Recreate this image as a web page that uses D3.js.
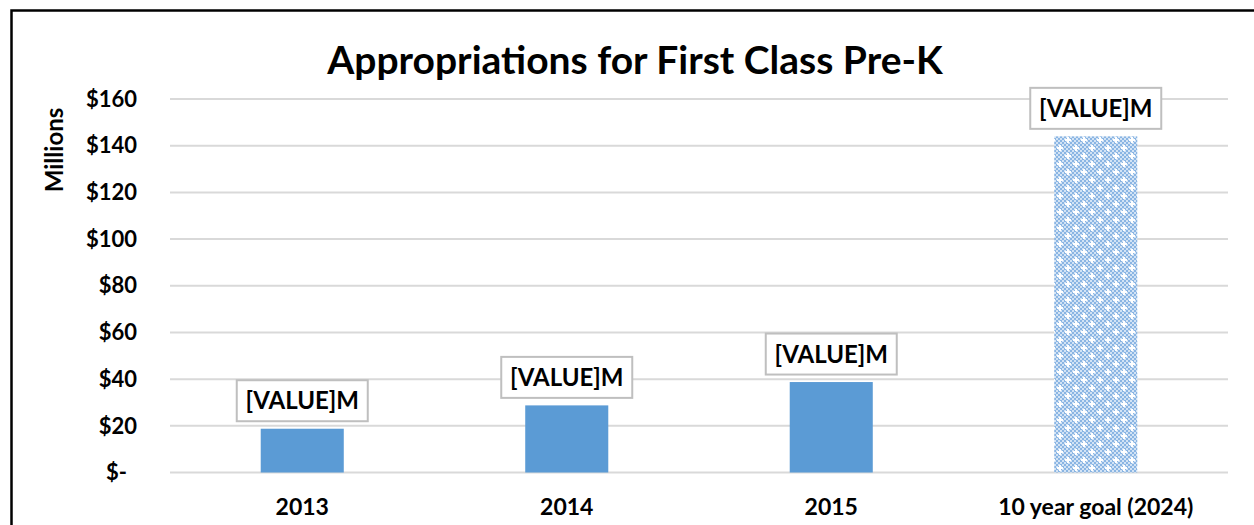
<!DOCTYPE html>
<html>
<head>
<meta charset="utf-8">
<script src="https://cdn.jsdelivr.net/npm/d3@7"></script>
<style>
  body { margin: 0; background: #fff; }
  svg { display: block; font-family: Lato, "Open Sans", sans-serif; font-weight: bold; }
</style>
</head>
<body>
<svg id="chart" width="1254" height="525"></svg>
<script>
// chart values
const categories = ['2013', '2014', '2015', '10 year goal (2024)']
const appropriations = [18.75, 28.75, 38.75, 144]   // millions
const isGoal = [false, false, false, true]
const yTicks = [0, 20, 40, 60, 80, 100, 120, 140, 160]
const labelText = '[VALUE]M'
const title = 'Appropriations for First Class Pre-K'

const svg = d3.select('#chart')

// pattern for the goal bar
const defs = svg.append('defs')
const pat = defs.append('pattern')
    .attr('id', 'goal-fill')
    .attr('patternUnits', 'userSpaceOnUse')
    .attr('width', 16)
    .attr('height', 16)
pat.append('rect').attr('width', 16).attr('height', 16).attr('fill', '#d2e3f5')
for (let i = 0; i < 8; i++) {
    for (let j = 0; j < 8; j++) {
        if ((i + j) % 2 == 0) {
            pat.append('rect')
                .attr('x', i * 2).attr('y', j * 2)
                .attr('width', 2).attr('height', 2)
                .attr('fill', '#8ab5e3')
        }
    }
}
// white sparkles
;[[4, 4], [12, 12]].forEach(p => {
    pat.append('rect').attr('x', p[0] - 1).attr('y', p[1] - 3).attr('width', 2).attr('height', 6).attr('fill', '#fff')
    pat.append('rect').attr('x', p[0] - 3).attr('y', p[1] - 1).attr('width', 6).attr('height', 2).attr('fill', '#fff')
})

// outer frame
svg.append('rect')
    .attr('x', 11.5).attr('y', 10.5)
    .attr('width', 1260).attr('height', 600)
    .attr('fill', 'none')
    .attr('stroke', '#000')
    .attr('stroke-width', 2.5)

const plotLeft = 170, plotRight = 1228, plotTop = 99, plotBottom = 472.5

const x = d3.scaleBand()
    .domain(categories)
    .range([plotLeft, plotRight])
    .padding(0)

const y = d3.scaleLinear()
    .domain([0, 160])
    .range([plotBottom, plotTop])

const barWidth = x.bandwidth() * 0.314

// gridlines
svg.append('g')
    .selectAll('line')
    .data(yTicks)
    .join('line')
    .attr('x1', plotLeft)
    .attr('x2', plotRight)
    .attr('y1', d => y(d))
    .attr('y2', d => y(d))
    .attr('stroke', '#d9d9d9')
    .attr('stroke-width', 2)

// y tick labels
svg.append('g')
    .selectAll('text')
    .data(yTicks)
    .join('text')
    .attr('x', d => d == 0 ? 127 : 137)
    .attr('y', d => y(d))
    .attr('dy', '0.35em')
    .attr('text-anchor', 'end')
    .attr('font-size', 22)
    .attr('fill', '#000')
    .text(d => d == 0 ? '$-' : '$' + d)

// y axis title
svg.append('text')
    .attr('transform', 'translate(63,150) rotate(-90)')
    .attr('text-anchor', 'middle')
    .attr('font-size', 24)
    .text('Millions')

// bars
const data = categories.map((c, i) => ({ cat: c, val: appropriations[i], goal: isGoal[i] }))

svg.append('g')
    .selectAll('rect')
    .data(data)
    .join('rect')
    .attr('x', d => x(d.cat) + (x.bandwidth() - barWidth) / 2)
    .attr('width', barWidth)
    .attr('y', d => y(d.val))
    .attr('height', d => y(0) - y(d.val))
    .attr('fill', d => d.goal ? 'url(#goal-fill)' : '#5b9bd5')

// data labels
const labels = svg.append('g')
    .selectAll('g')
    .data(data)
    .join('g')
    .attr('transform', d => `translate(${x(d.cat) + x.bandwidth() / 2},${y(d.val) - 28})`)

labels.append('rect')
    .attr('x', -65.5)
    .attr('y', -20.5)
    .attr('width', 131)
    .attr('height', 41)
    .attr('fill', '#fff')
    .attr('stroke', '#bfbfbf')
    .attr('stroke-width', 2)

labels.append('text')
    .attr('text-anchor', 'middle')
    .attr('dy', '0.36em')
    .attr('font-size', 24)
    .attr('fill', '#000')
    .text(labelText)

// x labels
svg.append('g')
    .selectAll('text')
    .data(categories)
    .join('text')
    .attr('x', d => x(d) + x.bandwidth() / 2)
    .attr('y', 507)
    .attr('dy', '0.35em')
    .attr('text-anchor', 'middle')
    .attr('font-size', 23)
    .text(d => d)

// title
svg.append('text')
    .attr('x', 635)
    .attr('y', 60)
    .attr('dy', '0.35em')
    .attr('text-anchor', 'middle')
    .attr('font-size', 39)
    .text(title)
</script>
</body>
</html>
